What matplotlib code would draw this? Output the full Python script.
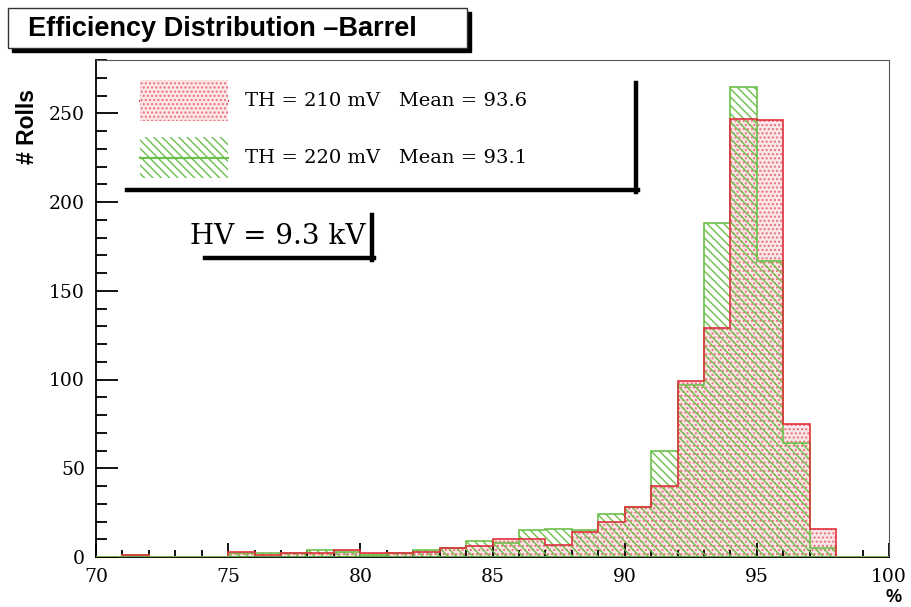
import numpy as np
import matplotlib.pyplot as plt
from matplotlib.patches import Rectangle
from matplotlib.lines import Line2D
from matplotlib.ticker import MultipleLocator

# bin edges (efficiency in %) and counts per 1% bin, 70..100
edges = np.arange(70, 101, 1)
th210 = [0, 1, 0, 0, 0, 3, 1, 2, 2, 4, 2, 2, 3, 5, 6,
         10, 10, 7, 14, 20, 28, 40, 99, 129, 247, 246, 75, 16, 0, 0]
th220 = [0, 1, 0, 0, 0, 2, 2, 2, 4, 3, 1, 2, 4, 5, 9,
         8, 15, 16, 15, 24, 28, 60, 97, 188, 265, 167, 64, 5, 0, 0]
labels = ['TH = 210 mV   Mean = 93.6', 'TH = 220 mV   Mean = 93.1']

W, H = 911, 607
red_line = '#e0303c'
red_dots = '#ea6f7a'
red_face = '#fbe6e8'
green_line = '#6cc04a'

plt.rcParams['hatch.linewidth'] = 1.0
serif = 'DejaVu Serif'

fig = plt.figure(figsize=(W / 100, H / 100), dpi=100)
ax = fig.add_axes([96 / W, 1 - 557 / H, (889 - 96) / W, (557 - 60) / H])

# red histogram: pink face with dot pattern
ax.stairs(th210, edges, fill=True, facecolor=red_face, edgecolor=red_dots,
          hatch='....', linewidth=0, zorder=1)
# green histogram: diagonal hatch, no face
ax.stairs(th220, edges, fill=True, facecolor='none', edgecolor=green_line,
          hatch='\\\\\\\\', linewidth=0, zorder=2)
# outlines
ax.stairs(th220, edges, color=green_line, linewidth=1.2, zorder=3)
ax.stairs(th210, edges, color=red_line, linewidth=1.2, zorder=4)
ax.plot([70, 100], [0, 0], color=green_line, linewidth=1.2, zorder=5)

ax.set_xlim(70, 100)
ax.set_ylim(0, 280)
ax.xaxis.set_major_locator(MultipleLocator(5))
ax.xaxis.set_minor_locator(MultipleLocator(1))
ax.yaxis.set_major_locator(MultipleLocator(50))
ax.yaxis.set_minor_locator(MultipleLocator(10))
ax.tick_params(axis='x', which='major', direction='in', length=10, width=1.3, pad=8)
ax.tick_params(axis='x', which='minor', direction='in', length=5, width=1.3)
ax.tick_params(axis='y', which='major', direction='in', length=16, width=1.3, pad=8)
ax.tick_params(axis='y', which='minor', direction='in', length=8, width=1.3)
for t in ax.get_xticklabels() + ax.get_yticklabels():
    t.set_fontfamily(serif)
    t.set_fontsize(13.5)
for s in ['top', 'right']:
    ax.spines[s].set_color('#555555')
    ax.spines[s].set_linewidth(0.8)
for s in ['left', 'bottom']:
    ax.spines[s].set_linewidth(1.3)

def fx(x):
    return x / W

def fy(y):
    return 1 - y / H

# title box with shadow
fig.patches.append(Rectangle((fx(12), fy(52)), (471 - 12) / W, (52 - 12) / H,
                             transform=fig.transFigure, facecolor='black',
                             edgecolor='black', zorder=5))
fig.patches.append(Rectangle((fx(8), fy(48)), (467 - 8) / W, (48 - 8) / H,
                             transform=fig.transFigure, facecolor='white',
                             edgecolor='#333333', linewidth=1, zorder=6))
fig.text(fx(28), fy(29), 'Efficiency Distribution \u2013Barrel', fontsize=19.5,
         fontweight='bold', family='Liberation Sans', va='center', ha='left', zorder=7)

# legend: shadow lines on right and bottom
fig.add_artist(Line2D([fx(636), fx(636)], [fy(83), fy(192)], color='black', linewidth=3.2))
fig.add_artist(Line2D([fx(127), fx(638)], [fy(190), fy(190)], color='black', linewidth=3.2))

# legend swatches
fig.patches.append(Rectangle((fx(140), fy(121)), 88 / W, 41 / H, transform=fig.transFigure,
                             facecolor=red_face, edgecolor=red_dots, hatch='....',
                             linewidth=0, zorder=3))
fig.add_artist(Line2D([fx(140), fx(228)], [fy(101), fy(101)], color=red_line, linewidth=1.5))
fig.patches.append(Rectangle((fx(140), fy(178)), 88 / W, 41 / H, transform=fig.transFigure,
                             facecolor='none', edgecolor=green_line, hatch='\\\\\\\\',
                             linewidth=0, zorder=3))
fig.add_artist(Line2D([fx(140), fx(228)], [fy(158), fy(158)], color=green_line, linewidth=1.5))
fig.text(fx(245), fy(101), labels[0], fontsize=14, family=serif, va='center', ha='left')
fig.text(fx(245), fy(158), labels[1], fontsize=14, family=serif, va='center', ha='left')

# HV label with shadow lines
fig.text(fx(190), fy(236), 'HV = 9.3 kV', fontsize=20, family=serif, va='center', ha='left')
fig.add_artist(Line2D([fx(372), fx(372)], [fy(215), fy(260)], color='black', linewidth=3.2))
fig.add_artist(Line2D([fx(205), fx(374)], [fy(258), fy(258)], color='black', linewidth=3.2))

# axis labels
fig.text(fx(28), fy(127), '# Rolls', fontsize=16.5, fontweight='bold', family='Liberation Sans',
         rotation=90, va='center', ha='center')
fig.text(fx(894), fy(598), '%', fontsize=13, fontweight='bold', family='Liberation Sans',
         va='center', ha='center')

fig.savefig('out.png', dpi=100)
